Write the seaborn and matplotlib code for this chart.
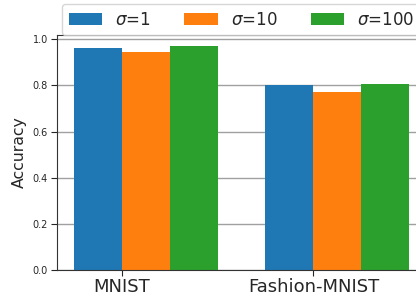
import matplotlib
matplotlib.use("Agg")
import matplotlib.pyplot as plt
import numpy as np
import pandas as pd
import seaborn as sns

# accuracy per dataset for each sigma
datasets = ["MNIST", "Fashion-MNIST"]
sigmas = ["$\\sigma$=1", "$\\sigma$=10", "$\\sigma$=100"]
acc_sigma1 = [0.962, 0.803]
acc_sigma10 = [0.946, 0.773]
acc_sigma100 = [0.972, 0.807]
colors = ["#1f77b4", "#ff7f0e", "#2ca02c"]

rows = []
for s, vals in zip(sigmas, [acc_sigma1, acc_sigma10, acc_sigma100]):
    for d, v in zip(datasets, vals):
        rows.append({"dataset": d, "sigma": s, "accuracy": v})
df = pd.DataFrame(rows)

sns.set_style("ticks")
fig = plt.figure(figsize=(4.16, 2.93), dpi=100)
ax = fig.add_axes([57 / 416, 23 / 293, 369 / 416, 235.3 / 293])

width = 0.75
sns.barplot(
    data=df, x="dataset", y="accuracy", hue="sigma",
    order=datasets, hue_order=sigmas, palette=colors,
    width=width, saturation=1, linewidth=0, errorbar=None, ax=ax,
)

# ticks sit at the left edge of the middle bar in the original
bar_w = width / len(sigmas)
pos = np.arange(len(datasets))
ax.set_xticks(pos - bar_w / 2, datasets, fontsize=13)
ax.set_xlim(-width / 2 - 0.0875, len(datasets) - 1 + width / 2 + 0.0875)
ax.set_ylim(0, 1.02)
ax.set_yticks(np.arange(0, 1.01, 0.2))
ax.tick_params(axis="y", labelsize=7, length=4, pad=2.5)
ax.tick_params(axis="x", length=4, pad=2)
ax.set_xlabel("")
ax.set_ylabel("Accuracy", fontsize=11.3, labelpad=4)
ax.set_axisbelow(True)
ax.yaxis.grid(True, color="#a0a0a0", linewidth=1)
for side in ["left", "bottom", "top"]:
    ax.spines[side].set_visible(True)
    ax.spines[side].set_color("#333333")
ax.spines["right"].set_visible(False)

handles, labels = ax.get_legend_handles_labels()
ax.get_legend().remove()
fig.legend(
    handles, labels, loc="upper left", ncol=3, fontsize=12,
    bbox_to_anchor=(62 / 416, 1 - 4 / 293), borderaxespad=0,
    frameon=True, fancybox=True,
)

fig.savefig("out.png", dpi=100)
